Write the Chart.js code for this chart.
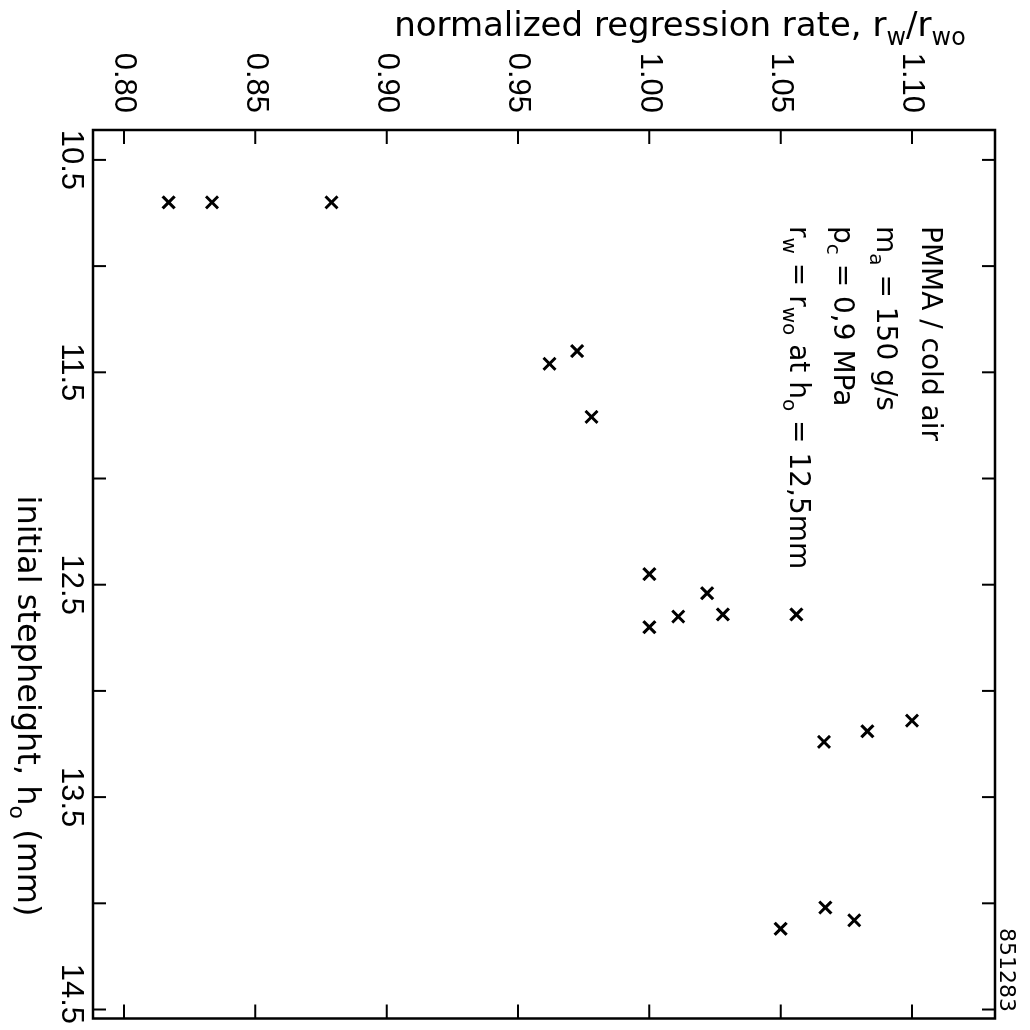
<!DOCTYPE html>
<html>
<head>
<meta charset="utf-8">
<script src="https://cdn.jsdelivr.net/npm/chart.js@4.4.1/dist/chart.umd.min.js"></script>
<style>
  html, body { margin: 0; padding: 0; background: #fff; overflow: hidden; }
  /* the scanned figure is turned a quarter clockwise, so the whole canvas is too */
  #wrap { width: 1030px; height: 1030px; transform: rotate(90deg); transform-origin: 50% 50%; }
</style>
</head>
<body>
<div id="wrap"><canvas id="chart" width="1030" height="1030"></canvas></div>
<script>
// initial stepheight h0 (mm) and normalized regression rate rw/rwo, one entry per cross
const stepHeights = [10.70, 10.70, 10.70, 11.40, 11.46, 11.71, 12.45, 12.54, 12.65, 12.64, 12.64, 12.70, 13.14, 13.19, 13.24, 14.02, 14.08, 14.12];
const regressionRates = [0.817, 0.8335, 0.879, 0.9725, 0.962, 0.978, 1.000, 1.022, 1.011, 1.028, 1.056, 1.000, 1.100, 1.083, 1.0665, 1.067, 1.078, 1.050];

// tick values
const stepTicks = [10.5, 11.0, 11.5, 12.0, 12.5, 13.0, 13.5, 14.0, 14.5];
const stepTickLabels = ['10.5', '', '11.5', '', '12.5', '', '13.5', '', '14.5'];
const rateTicks = [0.80, 0.85, 0.90, 0.95, 1.00, 1.05, 1.10];

// annotation lines, [text, isSubscript]
const noteLines = [
  [['PMMA / cold air', false]],
  [['m', false], ['a', true], [' = 150 g/s', false]],
  [['p', false], ['c', true], [' = 0,9 MPa', false]],
  [['r', false], ['w', true], [' = r', false], ['wo', true], [' at h', false], ['o', true], [' = 12,5mm', false]]
];
const rateTitle = [['normalized regression rate, r', false], ['w', true], ['/r', false], ['wo', true]];
const stepTitle = [['initial stepheight, h', false], ['o', true], [' (mm)', false]];

const TEXT_FONT = '"DejaVu Sans", sans-serif';
const NUM_FONT = '"Liberation Sans Narrow", "Liberation Sans", sans-serif';

// draws a line of text with subscripts, x is the start
function richWidth(ctx, parts, size) {
  let w = 0;
  parts.forEach(([t, sub]) => {
    ctx.font = `${sub ? Math.round(size * 0.7) : size}px ${TEXT_FONT}`;
    w += ctx.measureText(t).width;
  });
  return w;
}
function drawRich(ctx, parts, x, y, size) {
  ctx.textAlign = 'left';
  ctx.textBaseline = 'alphabetic';
  parts.forEach(([t, sub]) => {
    ctx.font = `${sub ? Math.round(size * 0.7) : size}px ${TEXT_FONT}`;
    ctx.fillText(t, x, sub ? y + size * 0.25 : y);
    x += ctx.measureText(t).width;
  });
}

const framePlugin = {
  id: 'frame',
  afterDraw(chart) {
    const { ctx, chartArea: a, scales: { x, y } } = chart;
    ctx.save();
    ctx.strokeStyle = '#000';
    ctx.fillStyle = '#000';
    ctx.lineCap = 'butt';

    // box
    ctx.lineWidth = 2.5;
    ctx.strokeRect(a.left, a.top, a.right - a.left, a.bottom - a.top);

    // inward ticks on all four sides
    ctx.lineWidth = 2;
    ctx.beginPath();
    x.ticks.forEach(t => {
      const px = x.getPixelForValue(t.value);
      ctx.moveTo(px, a.bottom); ctx.lineTo(px, a.bottom - 13);
      ctx.moveTo(px, a.top); ctx.lineTo(px, a.top + 13);
    });
    y.ticks.forEach(t => {
      const py = y.getPixelForValue(t.value);
      ctx.moveTo(a.left, py); ctx.lineTo(a.left + 14, py);
      ctx.moveTo(a.right, py); ctx.lineTo(a.right - 14, py);
    });
    ctx.stroke();

    // stepheight tick labels, the last one kept inside the page
    ctx.font = `31px ${NUM_FONT}`;
    ctx.textAlign = 'left';
    ctx.textBaseline = 'alphabetic';
    stepTicks.forEach((v, i) => {
      const label = stepTickLabels[i];
      if (!label) return;
      const w = ctx.measureText(label).width;
      let left = x.getPixelForValue(v) - w / 2;
      if (left + w > 1024) left = 1024 - w;
      ctx.fillText(label, left, 968);
    });

    // axis titles
    const tw = richWidth(ctx, rateTitle, 34);
    ctx.save();
    ctx.translate(36, 350);
    ctx.rotate(-Math.PI / 2);
    drawRich(ctx, rateTitle, -tw / 2, 0, 34);
    ctx.restore();

    const sw = richWidth(ctx, stepTitle, 32);
    drawRich(ctx, stepTitle, 706 - sw / 2, 1012, 32);

    // conditions note
    const baselines = [108, 153, 196, 240];
    noteLines.forEach((line, i) => drawRich(ctx, line, 226, baselines[i], 28));

    // figure number
    ctx.font = `22px ${TEXT_FONT}`;
    ctx.textAlign = 'right';
    ctx.fillText('851283', 1012, 30);
    ctx.restore();
  }
};

const points = stepHeights.map((h, i) => ({ x: h, y: regressionRates[i] }));

new Chart(document.getElementById('chart').getContext('2d'), {
  type: 'scatter',
  data: {
    datasets: [{
      data: points,
      pointStyle: 'crossRot',
      pointRadius: 8.5,
      pointBorderWidth: 3,
      borderColor: '#000',
      backgroundColor: '#000'
    }]
  },
  options: {
    responsive: false,
    animation: false,
    events: [],
    devicePixelRatio: 1,
    layout: { padding: { top: 35, right: 9, bottom: 0, left: 0 } },
    plugins: { legend: { display: false }, tooltip: { enabled: false } },
    scales: {
      x: {
        type: 'linear',
        position: 'bottom',
        min: 10.3592,
        max: 14.5423,
        grid: { display: false },
        border: { display: false },
        ticks: { display: false },
        afterBuildTicks: s => { s.ticks = stepTicks.map(v => ({ value: v })); },
        afterFit: s => { s.height = 93; s.paddingLeft = 0; s.paddingRight = 0; }
      },
      y: {
        type: 'linear',
        position: 'left',
        min: 0.7882,
        max: 1.1316,
        grid: { display: false, drawTicks: false },
        border: { display: false },
        ticks: {
          color: '#000',
          padding: 17,
          font: { family: NUM_FONT, size: 31 },
          callback: v => v.toFixed(2)
        },
        afterBuildTicks: s => { s.ticks = rateTicks.map(v => ({ value: v })); },
        afterFit: s => { s.width = 130; s.paddingTop = 0; s.paddingBottom = 0; }
      }
    }
  },
  plugins: [framePlugin]
});
</script>
</body>
</html>
